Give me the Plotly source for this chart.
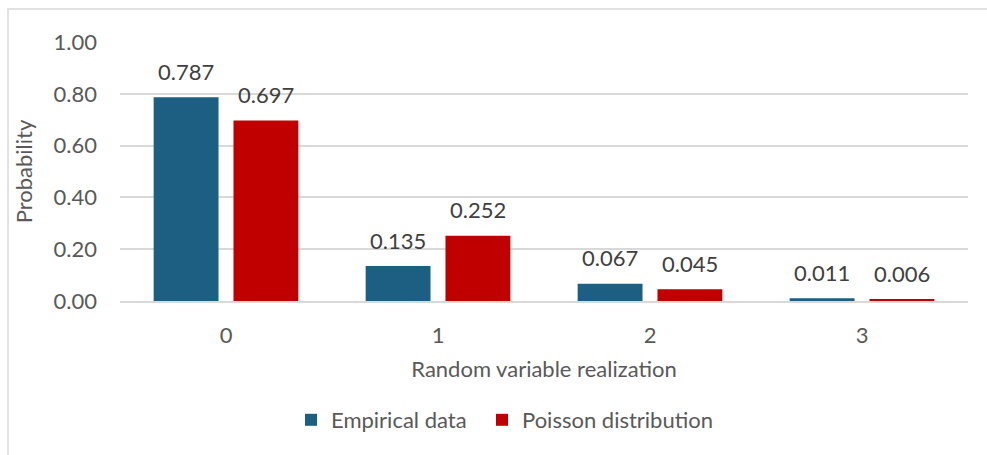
import plotly.graph_objects as go

categories = ["0", "1", "2", "3"]
empirical = [0.787, 0.135, 0.067, 0.011]
poisson = [0.697, 0.252, 0.045, 0.006]
y_ticks = [0, 0.2, 0.4, 0.6, 0.8, 1.0]
y_tick_labels = ["0.00", "0.20", "0.40", "0.60", "0.80", "1.00"]

FONT = "Lato"
FS = 22
W, H = 987, 455
ML, MR, MT, MB = 120, 19, 42, 154

fig = go.Figure()
fig.add_trace(go.Bar(name="Empirical data", x=categories, y=empirical,
                     marker=dict(color="#1c5f82", line=dict(width=0)),
                     legend="legend", showlegend=True))
fig.add_trace(go.Bar(name="Poisson distribution", x=categories, y=poisson,
                     marker=dict(color="#c00000", line=dict(width=0)),
                     legend="legend2", showlegend=True))

ann = []
for vals, shift in ((empirical, -40), (poisson, 40)):
    for c, v in zip(categories, vals):
        ann.append(dict(x=c, y=v, xref="x", yref="y", text=f"{v:.3f}",
                        showarrow=False, xshift=shift, yshift=26,
                        yanchor="middle", xanchor="center",
                        font=dict(family=FONT, size=FS, color="#404040")))

pw = W - ML - MR
ph = H - MT - MB
leg_common = dict(orientation="h", y=-(420 - MT - ph) / ph, yanchor="middle",
                  xanchor="left", font=dict(family=FONT, size=FS, color="#595959"),
                  itemwidth=30, bgcolor="rgba(0,0,0,0)")
fig.update_layout(
    width=W, height=H,
    margin=dict(l=ML, r=MR, t=MT, b=MB),
    paper_bgcolor="white", plot_bgcolor="white",
    showlegend=True,
    barmode="group", bargap=0.247, bargroupgap=0.1875,
    font=dict(family=FONT, size=FS, color="#595959"),
    annotations=ann,
    legend=dict(x=(291 - ML) / pw, **leg_common),
    legend2=dict(x=(482 - ML) / pw, **leg_common),
    shapes=[dict(type="rect", xref="paper", yref="paper",
                 x0=(8 - ML) / pw, x1=(W + 20 - ML) / pw,
                 y0=-(H + 20 - MT - ph) / ph, y1=(MT + ph - 9) / ph,
                 line=dict(color="#d9d9d9", width=1.5), layer="below")],
    xaxis=dict(showgrid=False, showline=True, linecolor="#d9d9d9", linewidth=1.5,
               ticks="", ticklabelstandoff=14,
               title=dict(text="Random variable realization", standoff=14,
                          font=dict(family=FONT, size=FS, color="#595959"))),
    yaxis=dict(range=[0, 1.0], tickvals=y_ticks, ticktext=y_tick_labels,
               showgrid=True, gridcolor="#d9d9d9", gridwidth=1.5,
               zeroline=False, showline=False, ticks="", ticklabelstandoff=22,
               title=dict(text="Probability", standoff=14,
                          font=dict(family=FONT, size=FS, color="#595959"))),
)
fig.write_html("out.html")
